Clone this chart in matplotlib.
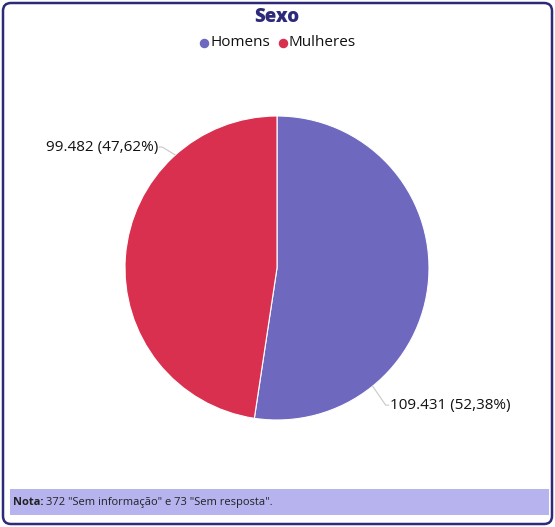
import matplotlib.pyplot as plt
import numpy as np
from matplotlib.patches import FancyBboxPatch, Rectangle

plt.rcParams['font.family'] = ['Open Sans', 'DejaVu Sans']

categorias = ['Homens', 'Mulheres']
valores = [109431, 99482]
percentuais = ['52,38%', '47,62%']
cores = ['#6f68bf', '#d9304f']

W, H = 555, 527
fig = plt.figure(figsize=(W / 100, H / 100), dpi=100)
ax = fig.add_axes([0, 0, 1, 1])

cx, cy, r = 277, H - 268, 152
wedges, _ = ax.pie(valores, colors=cores, startangle=90, counterclock=False,
                   center=(cx, cy), radius=r, frame=True,
                   wedgeprops=dict(edgecolor='white', linewidth=0.8))
ax.set_xlim(0, W)
ax.set_ylim(0, H)
ax.set_aspect('equal')
ax.axis('off')

# moldura
ax.add_patch(FancyBboxPatch((3, 3), W - 6, H - 6, boxstyle='round,pad=0,rounding_size=8',
                            facecolor='none', edgecolor='#2e2a7a', lw=1.8))

ax.text(277, H - 17, 'Sexo', ha='center', va='center', fontsize=13.5,
        fontweight='heavy', color='#2e2a7a')

# legenda
lx = [204, 283]
for x, c, nome in zip(lx, cores, categorias):
    ax.scatter(x, H - 43, s=34, color=c, zorder=3)
    ax.text(x + 6, H - 43, nome, ha='left', va='center', fontsize=11, color='#111111')

# rótulos
ang = [-51, 132]
offs = [(13, -19), (-13, 8)]
for a, v, p, (dx, dy) in zip(ang, valores, percentuais, offs):
    t = np.radians(a)
    x0, y0 = cx + r * np.cos(t), cy + r * np.sin(t)
    x1, y1 = x0 + dx, y0 + dy
    side = 1 if dx > 0 else -1
    ax.plot([x0, x1, x1 + side * 3], [y0, y1, y1], color='#c8c8c8', lw=0.8)
    txt = f'{v:,}'.replace(',', '.') + f' ({p})'
    ax.text(x1 + side * 4, y1, txt, ha='left' if side > 0 else 'right', va='center',
            fontsize=11, color='#111111')

# nota
ax.add_patch(Rectangle((10, H - 515), 539, 26, facecolor='#b6b3ef', edgecolor='none'))
t1 = ax.text(13, H - 505, 'Nota:', ha='left', va='baseline', fontsize=8,
             fontweight='bold', color='#222222')
fig.canvas.draw()
bb = t1.get_window_extent().transformed(ax.transData.inverted())
ax.text(bb.x1 + 3, H - 505, '372 "Sem informação" e 73 "Sem resposta".', ha='left',
        va='baseline', fontsize=8, color='#222222')

fig.savefig('out.png', dpi=100)
